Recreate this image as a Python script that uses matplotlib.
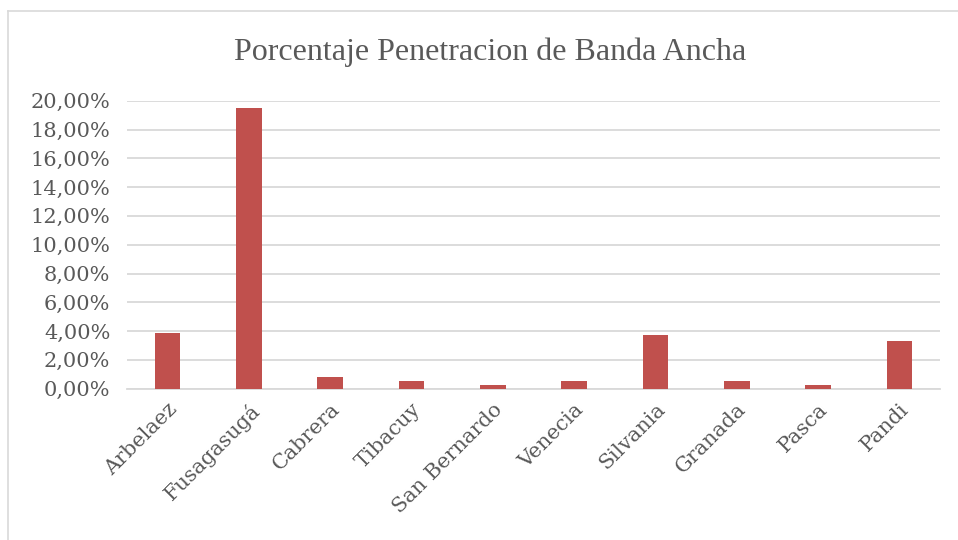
import matplotlib
matplotlib.use("Agg")
import matplotlib.pyplot as plt
from matplotlib.ticker import FuncFormatter
from matplotlib.lines import Line2D

categories = ["Arbelaez", "Fusagasugá", "Cabrera", "Tibacuy", "San Bernardo",
              "Venecia", "Silvania", "Granada", "Pasca", "Pandi"]
values = [0.0385, 0.1950, 0.0083, 0.0053, 0.0028,
          0.0053, 0.0375, 0.0053, 0.0028, 0.0329]
yticks = [0.00, 0.02, 0.04, 0.06, 0.08, 0.10, 0.12, 0.14, 0.16, 0.18, 0.20]
title = "Porcentaje Penetracion de Banda Ancha"

W, H = 958, 540
fig = plt.figure(figsize=(W / 100, H / 100), dpi=100)
fig.patch.set_facecolor("white")

# outer border (left and top visible)
fig.add_artist(Line2D([8 / W, 8 / W], [0, 1 - 11 / H], transform=fig.transFigure,
                      color="#D9D9D9", lw=1.2))
fig.add_artist(Line2D([8 / W, 1], [1 - 11 / H, 1 - 11 / H], transform=fig.transFigure,
                      color="#D9D9D9", lw=1.2))

left, right = 127 / W, 940 / W
bottom, top = 1 - 388.7 / H, 1 - 100.7 / H
ax = fig.add_axes([left, bottom, right - left, top - bottom])

x = list(range(len(categories)))
ax.bar(x, values, width=0.316, color="#C0504D", zorder=3)
ax.set_xlim(-0.5, len(categories) - 0.5)
ax.set_ylim(0, 0.20)
ax.set_yticks(yticks)
ax.yaxis.set_major_formatter(FuncFormatter(lambda v, p: f"{v*100:.2f}%".replace(".", ",")))
ax.grid(axis="y", color="#D9D9D9", lw=1.3, zorder=0)
ax.set_axisbelow(True)
for s in ["top", "right", "left"]:
    ax.spines[s].set_visible(False)
ax.spines["bottom"].set_color("#D9D9D9")
ax.spines["bottom"].set_linewidth(1.3)
ax.tick_params(axis="both", length=0, colors="#595959")
ax.tick_params(axis="y", pad=12)
ax.set_yticklabels(ax.get_yticklabels(), family="DejaVu Serif", fontsize=15, color="#595959")
ax.set_xticks(x)
ax.set_xticklabels(categories, rotation=45, ha="right", rotation_mode="anchor",
                   family="DejaVu Serif", fontsize=15, color="#595959")
ax.tick_params(axis="x", pad=8)

fig.text(490 / W, 1 - 52 / H, title, ha="center", va="center",
         family="Liberation Serif", fontsize=23, color="#595959")

fig.savefig("out.png", dpi=100, facecolor="white")
